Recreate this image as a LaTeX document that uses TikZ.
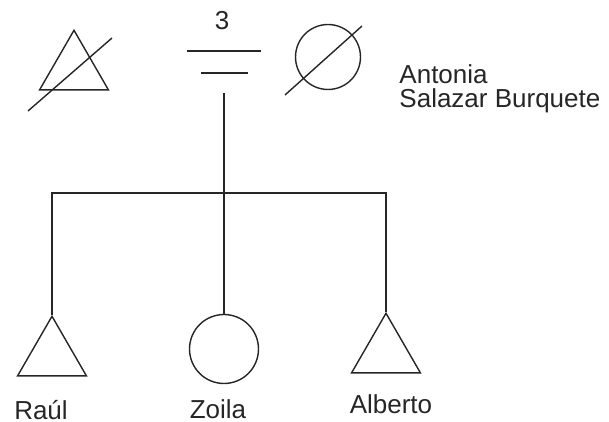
\documentclass[tikz,border=0pt]{standalone}
\usepackage{fontspec}
\setmainfont{Liberation Sans}
\usetikzlibrary{shapes.geometric}
\tikzset{
  male/.style={draw,regular polygon,regular polygon sides=3,minimum size=1.59cm,inner sep=0pt},
  female/.style={draw,circle,minimum size=#1,inner sep=0pt},
  label/.style={font=\fontsize{14.8}{13.6}\selectfont,text=black!85,inner sep=1pt},
}
\begin{document}
\begin{tikzpicture}[x=0.02cm,y=-0.02cm,line width=0.8pt,draw=black!85]
        \useasboundingbox (0,0) rectangle (609,422);
        \node[male] (F) at (74,70) {};
        \node[female=1.3cm] (M) at (328,57) {};
        \node[male] (R) at (52,356) {};
        \node[female=1.38cm] (Z) at (224,349) {};
        \node[male] (A) at (386,353) {};
        \coordinate (E) at (224,93) {};
        \coordinate (S) at (224,193) {};
        \draw (28,111)--(112,38);
        \draw (285,95)--(362,26);
        \draw (187,51)--(261,51);
        \draw (201,73)--(248,73);
        \node[label] (N) at (222,21) {3};
        \node[label,align=left,anchor=west] (AS) at (397,89) {Antonia\\Salazar Burquete};
        \draw (E)--(S);
        \draw (R.corner 1)--(R.corner 1 |- S)--(A.corner 1 |- S)--(A.corner 1);
        \draw (Z.north)--(S);
        \node[label] (RN) at (41,410) {Raúl};
        \node[label] (ZN) at (218,409) {Zoila};
        \node[label] (AN) at (391,404) {Alberto};
\end{tikzpicture}
\end{document}
